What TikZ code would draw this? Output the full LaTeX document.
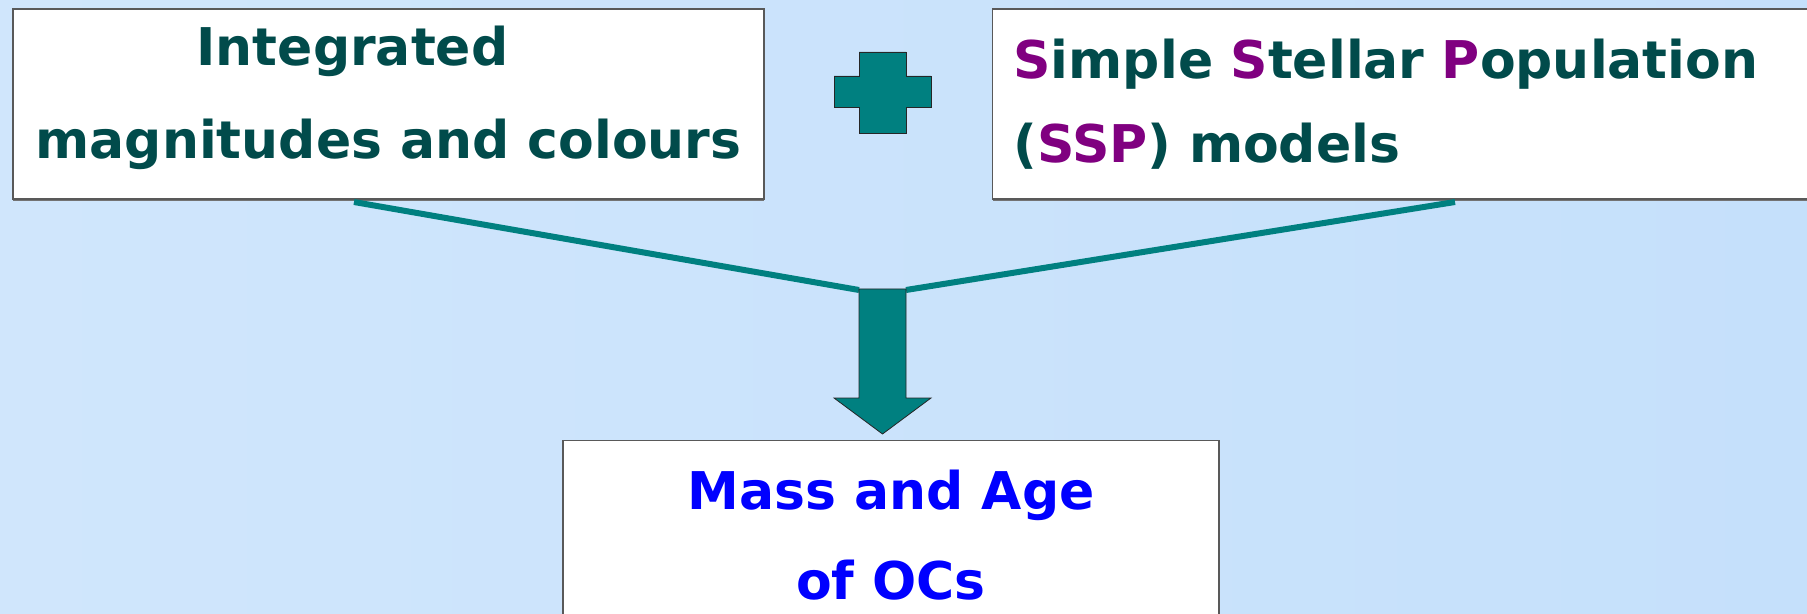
\documentclass[tikz,border=0pt]{standalone}
\usepackage{fontspec}
\setmainfont{DejaVu Sans}
\usetikzlibrary{shadows}
\definecolor{tealtxt}{HTML}{014B4B}
\definecolor{tealfill}{HTML}{008080}
\definecolor{ssppurple}{HTML}{800080}
\definecolor{bglight}{HTML}{D0E6FC}
\definecolor{bgmid}{HTML}{B6D8FA}
\definecolor{bgright}{HTML}{C5E0FB}

\newcommand{\ssp}[1]{\textcolor{ssppurple}{#1}}

\begin{document}
\begin{tikzpicture}[x=0.5pt,y=-0.5pt,
    box/.style={draw=black!65, line width=0.6pt, fill=white, inner sep=0pt,
        drop shadow={shadow xshift=0pt, shadow yshift=-1pt, fill=black!55, opacity=1}},
    boxfont/.style={font=\bfseries\fontsize{26}{#1}\selectfont},
    link/.style={draw=tealfill, line width=3pt},
    block/.style={draw=black!85, line width=0.4pt, fill=tealfill}]
    \useasboundingbox (0,0) rectangle (1807,614);
    \clip (0,0) rectangle (1807,614);
    \shade[left color=bglight, middle color=bgmid, right color=bgright] (0,0) rectangle (1807,614);

    % the three boxes
    \node[box, boxfont=46.5, text=tealtxt, align=center, minimum width=375.5pt, minimum height=95pt, text depth=12pt]
        (intg) at (388.5,104) {Integrated\hspace*{36pt}\\magnitudes and colours};
    \node[box, boxfont=42, text=tealtxt, align=left, text width=398pt, inner xsep=10.5pt, minimum height=95pt]
        (ssp) at (1411.5,104) {\ssp{S}imple \ssp{S}tellar \ssp{P}opulation\\(\ssp{SSP}) models};
    \node[box, boxfont=45, text=blue, align=center, minimum width=328pt, inner ysep=14.7pt, anchor=north]
        (mass) at (891,440) {Mass and Age\\of OCs\\[30pt]};

    % plus sign
    \draw[block] (859,52) -- (906,52) -- (906,76) -- (931,76) -- (931,107) -- (906,107)
        -- (906,133) -- (859,133) -- (859,107) -- (834,107) -- (834,76) -- (859,76) -- cycle;

    % block arrow down to the result
    \coordinate (shaftl) at (859,290);
    \coordinate (shaftr) at (906,290);
    \coordinate (intgout) at (354,202);
    \coordinate (sspout) at (1455,202);
    \draw[link] (intgout) -- (shaftl);
    \draw[link] (sspout) -- (shaftr);
    \draw[block] (859,289) -- (906,289) -- (906,398) -- (931,398) -- (882.5,434)
        -- (834,398) -- (859,398) -- cycle;
\end{tikzpicture}
\end{document}
